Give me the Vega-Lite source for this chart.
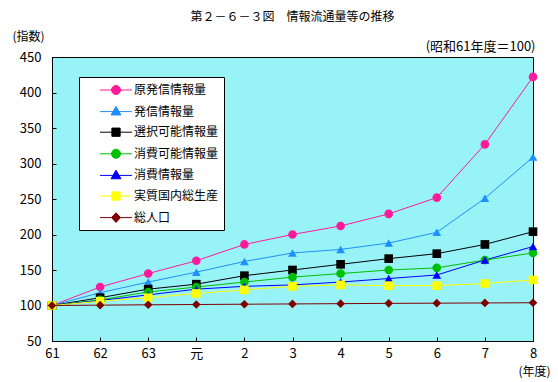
{
  "$schema": "https://vega.github.io/schema/vega-lite/v6.json",
  "width": 481,
  "height": 284,
  "autosize": {"type": "none"},
  "padding": {"left": 52, "top": 57, "right": 25, "bottom": 41},
  "background": "white",
  "title": {
    "text": "第２－６－３図　情報流通量等の推移",
    "font": "Noto Sans CJK JP",
    "fontSize": 12,
    "fontWeight": "normal",
    "color": "black",
    "anchor": "middle",
    "frame": "group",
    "offset": 6,
    "dx": 0
  },
  "config": {
    "font": "Noto Sans CJK JP",
    "view": {"fill": "#98f3f7", "stroke": "black", "strokeWidth": 1}
  },
  "data": {
    "values": [
      {"year": "61", "series": "原発信情報量", "value": 100},
      {"year": "62", "series": "原発信情報量", "value": 126},
      {"year": "63", "series": "原発信情報量", "value": 145},
      {"year": "元", "series": "原発信情報量", "value": 163},
      {"year": "2", "series": "原発信情報量", "value": 186},
      {"year": "3", "series": "原発信情報量", "value": 200},
      {"year": "4", "series": "原発信情報量", "value": 212},
      {"year": "5", "series": "原発信情報量", "value": 229},
      {"year": "6", "series": "原発信情報量", "value": 252},
      {"year": "7", "series": "原発信情報量", "value": 327},
      {"year": "8", "series": "原発信情報量", "value": 422},
      {"year": "61", "series": "発信情報量", "value": 100},
      {"year": "62", "series": "発信情報量", "value": 118},
      {"year": "63", "series": "発信情報量", "value": 133},
      {"year": "元", "series": "発信情報量", "value": 147},
      {"year": "2", "series": "発信情報量", "value": 162},
      {"year": "3", "series": "発信情報量", "value": 174},
      {"year": "4", "series": "発信情報量", "value": 179},
      {"year": "5", "series": "発信情報量", "value": 188},
      {"year": "6", "series": "発信情報量", "value": 203},
      {"year": "7", "series": "発信情報量", "value": 251},
      {"year": "8", "series": "発信情報量", "value": 309},
      {"year": "61", "series": "選択可能情報量", "value": 100},
      {"year": "62", "series": "選択可能情報量", "value": 111},
      {"year": "63", "series": "選択可能情報量", "value": 123},
      {"year": "元", "series": "選択可能情報量", "value": 130},
      {"year": "2", "series": "選択可能情報量", "value": 142},
      {"year": "3", "series": "選択可能情報量", "value": 150},
      {"year": "4", "series": "選択可能情報量", "value": 158},
      {"year": "5", "series": "選択可能情報量", "value": 166},
      {"year": "6", "series": "選択可能情報量", "value": 173},
      {"year": "7", "series": "選択可能情報量", "value": 186},
      {"year": "8", "series": "選択可能情報量", "value": 204},
      {"year": "61", "series": "消費可能情報量", "value": 100},
      {"year": "62", "series": "消費可能情報量", "value": 108},
      {"year": "63", "series": "消費可能情報量", "value": 119},
      {"year": "元", "series": "消費可能情報量", "value": 126},
      {"year": "2", "series": "消費可能情報量", "value": 133},
      {"year": "3", "series": "消費可能情報量", "value": 140},
      {"year": "4", "series": "消費可能情報量", "value": 145},
      {"year": "5", "series": "消費可能情報量", "value": 150},
      {"year": "6", "series": "消費可能情報量", "value": 153},
      {"year": "7", "series": "消費可能情報量", "value": 164},
      {"year": "8", "series": "消費可能情報量", "value": 174},
      {"year": "61", "series": "消費情報量", "value": 100},
      {"year": "62", "series": "消費情報量", "value": 107},
      {"year": "63", "series": "消費情報量", "value": 115},
      {"year": "元", "series": "消費情報量", "value": 123},
      {"year": "2", "series": "消費情報量", "value": 127},
      {"year": "3", "series": "消費情報量", "value": 129},
      {"year": "4", "series": "消費情報量", "value": 133},
      {"year": "5", "series": "消費情報量", "value": 138},
      {"year": "6", "series": "消費情報量", "value": 143},
      {"year": "7", "series": "消費情報量", "value": 164},
      {"year": "8", "series": "消費情報量", "value": 183},
      {"year": "61", "series": "実質国内総生産", "value": 100},
      {"year": "62", "series": "実質国内総生産", "value": 106},
      {"year": "63", "series": "実質国内総生産", "value": 111},
      {"year": "元", "series": "実質国内総生産", "value": 117},
      {"year": "2", "series": "実質国内総生産", "value": 122},
      {"year": "3", "series": "実質国内総生産", "value": 127},
      {"year": "4", "series": "実質国内総生産", "value": 129},
      {"year": "5", "series": "実質国内総生産", "value": 128},
      {"year": "6", "series": "実質国内総生産", "value": 128},
      {"year": "7", "series": "実質国内総生産", "value": 131},
      {"year": "8", "series": "実質国内総生産", "value": 136},
      {"year": "61", "series": "総人口", "value": 100},
      {"year": "62", "series": "総人口", "value": 100.5},
      {"year": "63", "series": "総人口", "value": 101},
      {"year": "元", "series": "総人口", "value": 101.4},
      {"year": "2", "series": "総人口", "value": 101.8},
      {"year": "3", "series": "総人口", "value": 102.2},
      {"year": "4", "series": "総人口", "value": 102.6},
      {"year": "5", "series": "総人口", "value": 103},
      {"year": "6", "series": "総人口", "value": 103.3},
      {"year": "7", "series": "総人口", "value": 103.6},
      {"year": "8", "series": "総人口", "value": 103.9}
    ]
  },
  "encoding": {
    "x": {
      "field": "year",
      "type": "ordinal",
      "sort": ["61", "62", "63", "元", "2", "3", "4", "5", "6", "7", "8"],
      "scale": {"type": "point", "padding": 0},
      "axis": {
        "labelAngle": 0,
        "labelFont": "Noto Sans CJK JP",
        "labelFontSize": 13,
        "labelColor": "black",
        "labelPadding": 10,
        "tickSize": -4,
        "tickColor": "black",
        "domainColor": "black",
        "title": "(年度)",
        "titleFont": "Noto Sans CJK JP",
        "titleFontSize": 12,
        "titleFontWeight": "normal",
        "titleColor": "black",
        "titleAngle": 0,
        "titleAlign": "center",
        "titleBaseline": "middle",
        "titleX": 482,
        "titleY": 30
      }
    },
    "y": {
      "field": "value",
      "type": "quantitative",
      "scale": {"domain": [50, 450], "nice": false, "zero": false}
    }
  },
  "layer": [
    {
      "mark": {"type": "line", "strokeWidth": 1},
      "encoding": {
        "color": {
          "field": "series",
          "type": "nominal",
          "scale": {
            "domain": ["原発信情報量", "発信情報量", "選択可能情報量", "消費可能情報量", "消費情報量", "実質国内総生産", "総人口"],
            "range": ["#ff1a9c", "#1e8fff", "#000000", "#00c000", "#0000ff", "#ffff00", "#800000"]
          },
          "legend": null
        },
        "y": {
          "field": "value",
          "type": "quantitative",
          "axis": {
            "values": [50, 100, 150, 200, 250, 300, 350, 400, 450],
            "grid": false,
            "labelFont": "Noto Sans CJK JP",
            "labelFontSize": 13,
            "labelColor": "black",
            "labelPadding": 15,
            "tickSize": -4,
            "tickColor": "black",
            "domainColor": "black",
            "title": "(指数)",
            "titleFont": "Noto Sans CJK JP",
            "titleFontSize": 12,
            "titleFontWeight": "normal",
            "titleColor": "black",
            "titleAngle": 0,
            "titleAlign": "center",
            "titleBaseline": "middle",
            "titleX": -24,
            "titleY": -21
          }
        }
      }
    },
    {
      "mark": {"type": "point", "filled": true, "opacity": 1, "size": 75},
      "encoding": {
        "color": {
          "field": "series",
          "type": "nominal",
          "legend": null
        },
        "shape": {
          "field": "series",
          "type": "nominal",
          "scale": {
            "domain": ["原発信情報量", "発信情報量", "選択可能情報量", "消費可能情報量", "消費情報量", "実質国内総生産", "総人口"],
            "range": ["circle", "triangle-up", "square", "circle", "triangle-up", "square", "diamond"]
          },
          "legend": null
        },
        "y": {
          "field": "value",
          "type": "quantitative",
          "axis": {
            "orient": "right",
            "labels": false,
            "ticks": false,
            "domain": false,
            "grid": false,
            "title": "(昭和61年度＝100)",
            "titleFont": "Noto Sans CJK JP",
            "titleFontSize": 13,
            "titleFontWeight": "normal",
            "titleColor": "black",
            "titleAngle": 0,
            "titleAlign": "right",
            "titleBaseline": "middle",
            "titleX": 2,
            "titleY": -11
          }
        }
      }
    },
    {
      "mark": {"type": "point", "filled": true, "opacity": 0, "size": 225, "strokeWidth": 1},
      "encoding": {
        "y": {"field": "value", "type": "quantitative", "axis": null},
        "fill": {
          "field": "series",
          "type": "nominal",
          "scale": {
            "domain": ["原発信情報量", "発信情報量", "選択可能情報量", "消費可能情報量", "消費情報量", "実質国内総生産", "総人口"],
            "range": ["#ff1a9c", "#1e8fff", "#000000", "#00c000", "#0000ff", "#ffff00", "#800000"]
          },
          "legend": {
            "title": null, "orient": "none", "legendX": 27, "legendY": 20, "padding": 5,
            "fillColor": "white", "strokeColor": "black", "rowPadding": 6.6, "symbolSize": 225,
            "symbolOffset": 24, "labelOffset": 10, "labelFont": "Noto Sans CJK JP", "labelFontSize": 12,
            "labelColor": "black", "symbolOpacity": 1, "symbolStrokeWidth": 1
          }
        },
        "stroke": {
          "field": "series",
          "type": "nominal",
          "scale": {
            "domain": ["原発信情報量", "発信情報量", "選択可能情報量", "消費可能情報量", "消費情報量", "実質国内総生産", "総人口"],
            "range": ["#ff1a9c", "#1e8fff", "#000000", "#00c000", "#0000ff", "#ffff00", "#800000"]
          },
          "legend": {
            "title": null, "orient": "none", "legendX": 27, "legendY": 20, "padding": 5,
            "fillColor": "white", "strokeColor": "black", "rowPadding": 6.6, "symbolSize": 225,
            "symbolOffset": 24, "labelOffset": 10, "labelFont": "Noto Sans CJK JP", "labelFontSize": 12,
            "labelColor": "black", "symbolOpacity": 1, "symbolStrokeWidth": 1
          }
        },
        "shape": {
          "field": "series",
          "type": "nominal",
          "scale": {
            "domain": ["原発信情報量", "発信情報量", "選択可能情報量", "消費可能情報量", "消費情報量", "実質国内総生産", "総人口"],
            "range": [
              "M-2.13,0H2.13M0.6,0A0.6,0.6,0,1,1,-0.6,0A0.6,0.6,0,1,1,0.6,0Z",
              "M-2.13,0H2.13M0,-0.7L0.66,0.45L-0.66,0.45Z",
              "M-2.13,0H2.13M-0.55,-0.55H0.55V0.55H-0.55Z",
              "M-2.13,0H2.13M0.6,0A0.6,0.6,0,1,1,-0.6,0A0.6,0.6,0,1,1,0.6,0Z",
              "M-2.13,0H2.13M0,-0.7L0.66,0.45L-0.66,0.45Z",
              "M-2.13,0H2.13M-0.55,-0.55H0.55V0.55H-0.55Z",
              "M-2.13,0H2.13M0,-0.65L0.6,0L0,0.65L-0.6,0Z"
            ]
          },
          "legend": {
            "title": null, "orient": "none", "legendX": 27, "legendY": 20, "padding": 5,
            "fillColor": "white", "strokeColor": "black", "rowPadding": 6.6, "symbolSize": 225,
            "symbolOffset": 24, "labelOffset": 10, "labelFont": "Noto Sans CJK JP", "labelFontSize": 12,
            "labelColor": "black", "symbolOpacity": 1, "symbolStrokeWidth": 1
          }
        }
      }
    }
  ],
  "resolve": {
    "axis": {"y": "independent"},
    "scale": {"shape": "independent", "fill": "independent", "stroke": "independent"}
  }
}
